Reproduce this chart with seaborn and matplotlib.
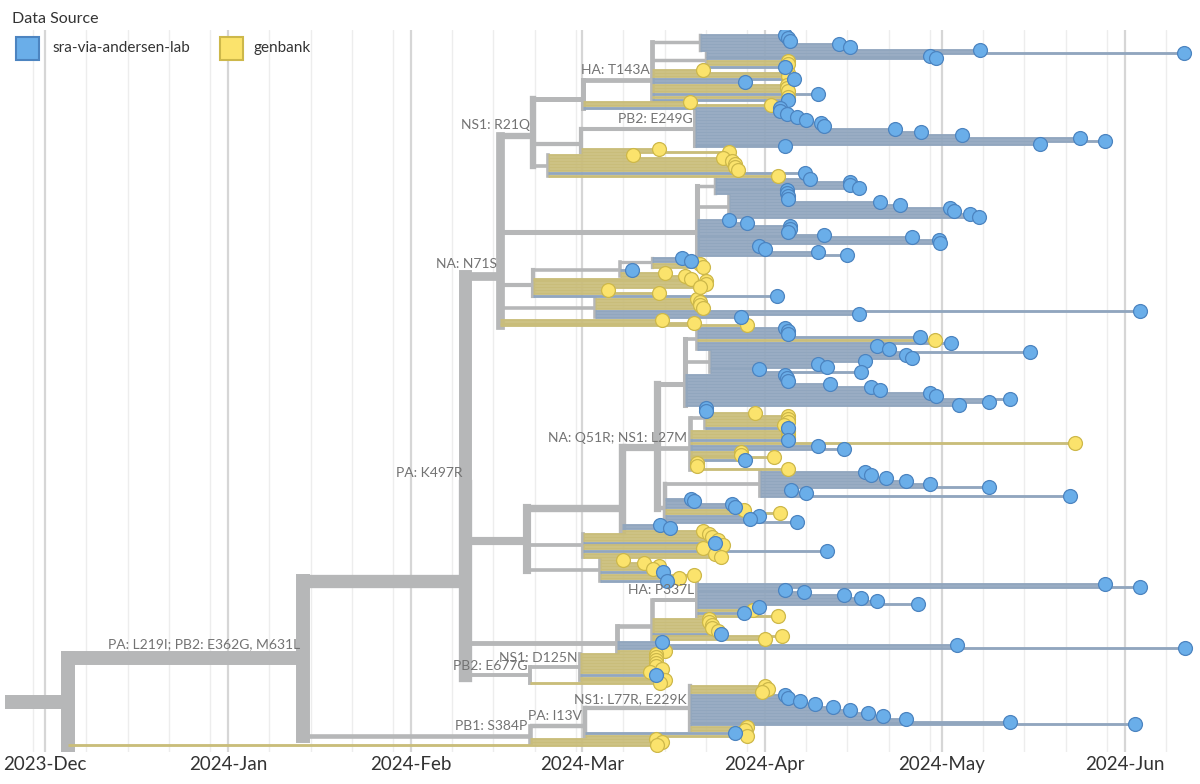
import matplotlib
matplotlib.use("Agg")
import matplotlib.pyplot as plt
import seaborn as sns
import pandas as pd
import numpy as np
from matplotlib.patches import Rectangle

# dates are days after 2023-12-01
root_start = -6.8

node_name = ["r", "B", "C", "Cp", "D", "E1", "E1a", "Ha", "Ha1", "Ha2", "E1b", "Pb", "E1c",
             "D2", "D2a", "D2b", "D3", "D4", "D5", "D6",
             "E", "E2", "E3", "E3a", "E3a1", "E3a2", "E3b", "E3b1", "E3c", "E3c1", "E4", "E5",
             "F", "F1", "F2", "G", "G2", "H", "H2", "H3"]
node_parent = [None, "r", "B", "C", "Cp", "D", "E1", "E1a", "Ha", "Ha", "E1", "E1b", "E1",
               "D", "D2", "D2", "D", "D3", "D4", "D",
               "Cp", "E", "E2", "E3", "E3a", "E3a", "E3", "E3b", "E3", "E3c", "E", "E",
               "Cp", "F", "F1", "C", "G", "B", "H", "H2"]
node_day = [3.9, 43.7, 71.2, 71.2, 77.1, 82.7, 91.2, 102.9, 111, 112, 90.8, 110.2, 85.3,
            110.5, 113.6, 116, 82.7, 97.5, 102.9, 93.2,
            81.7, 97.8, 103.7, 108.5, 110.5, 112.7, 109.3, 111.9, 105, 121.2, 91.2, 94,
            96.9, 102.9, 110.5, 82.2, 90.7, 82.2, 91.5, 109.3]

label_node = ["B", "Cp", "D", "E1", "Ha", "Pb", "E3b", "F2", "G", "G2", "H", "H2", "H3"]
label_text = ["PA: L219I; PB2: E362G, M631L", "PA: K497R", "NA: N71S", "NS1: R21Q",
              "HA: T143A", "PB2: E249G", "NA: Q51R; NS1: L27M", "HA: P337L",
              "PB2: E677G", "NS1: D125N", "PB1: S384P", "PA: I13V", "NS1: L77R, E229K"]

tip_parent = (["Ha1"] * 6 + ["Ha2"] * 6 + ["Ha"] * 11 + ["E1a"] * 3 + ["Pb"] * 13 + ["E1b"] * 2
              + ["E1c"] * 8 + ["D2a"] * 6 + ["D2b"] * 8 + ["D2"] * 13 + ["D5"] * 4 + ["D4"] * 3
              + ["D6"] * 7 + ["D3"] * 7 + ["D"] * 3 + ["E3a1"] * 8 + ["E3a2"] * 8 + ["E3a"] * 11
              + ["E3b1"] * 8 + ["E3b"] * 14 + ["E3c1"] * 9 + ["E3c"] * 9 + ["E2"] * 3 + ["E4"] * 9
              + ["E5"] * 8 + ["F2"] * 12 + ["F1"] * 8 + ["F"] * 4 + ["G2"] * 10 + ["G"] * 1
              + ["H3"] * 16 + ["H2"] * 2 + ["H"] * 2 + ["r"] * 1)
tip_day = [125.4, 126, 126.3, 134.5, 136.5, 158.5,
           193, 150, 151, 126, 126, 125.4,
           111.5, 126, 126, 127, 118.6, 125.8, 125.8, 126, 131, 126, 126,
           109.3, 123, 124.5,
           124.5, 125.8, 127.5, 129, 131.5, 132, 144, 148.5, 155.5, 175.4, 179.7, 168.6, 125.5,
           104, 116,
           99.7, 115, 116.5, 117, 117, 117.5, 128.8, 124.2,
           129.7, 136.4, 136.4, 138, 125.8, 125.8,
           126, 126, 141.5, 145, 153.4, 154, 156.8, 158.3,
           116, 119, 126.3, 126.3, 126, 132, 147, 151.5, 151.7, 121, 122, 131, 136,
           108, 109.5, 111, 111.5,
           99.5, 105, 108.5,
           110.5, 111, 111, 111.5, 185.6, 138, 118,
           109.5, 112, 112, 111, 95.5, 104, 124,
           104.5, 110, 119,
           125.5, 126, 126, 148.3, 150.8, 153.5, 141, 143,
           166.9, 146, 147, 139, 131, 132.5, 121, 138.3,
           125.5, 125.8, 126, 133, 140, 141.5, 150, 151, 163.6, 160, 155,
           112, 112, 120.3, 126, 126, 126, 125.2, 126,
           126, 126, 126, 126, 174.5, 131, 135.5, 118, 118, 123.5, 118.6, 110.5, 110.5, 126,
           139, 140, 142.5, 146, 150, 160, 126.5, 129, 173.7,
           109.5, 110, 116.5, 117, 118.5, 124.5, 121, 119.5, 127.5,
           104.2, 106, 111.5,
           112.5, 113, 114, 113.5, 115, 111.5, 132.5, 113.5, 114.5,
           98, 101.5, 104, 103, 104.8, 110, 107.5, 105.5,
           179.7, 185.6, 125.5, 128.7, 135.5, 138.3, 141, 148, 121, 120, 118.5, 124.2,
           112.5, 112.5, 113, 113, 114, 114.5, 125, 122,
           104.5, 154.5, 193.2, 105,
           103.5, 103.5, 103.5, 103.5, 103.5, 104.5, 102.5, 103.5, 104, 105,
           104.2,
           122, 122.5, 121.5, 125.5, 126, 128, 130.5, 133.5, 136.5, 139.5, 142, 146, 163.6, 184.7, 119, 118.6,
           116.9, 119,
           103.5, 104.5,
           103.8]
tip_source = ("ssssss" "sssggs" "gggssgggsgs" "ggs" "sssssssssssss" "gg"
              "ggggggsg" "ssssss" "ssssssss" "sssssssssssss" "ssgg" "sgg"
              "ggggsss" "ggggggs" "ggg" "ssssgsss" "ssssssss" "sssssssssss"
              "ssgggggs" "gggsgssgggsggg" "sssssssss" "ssssggsss" "ssg" "gggsggsgg"
              "ggggsggs" "sssssssssgsg" "gggggsgg" "sssg" "gggggggsgg" "g"
              "gggsssssssssssgg" "sg" "gg" "g")

source_names = {"s": "sra-via-andersen-lab", "g": "genbank"}
tip_fill = {"sra-via-andersen-lab": "#6AAEE9", "genbank": "#FBE36C"}
tip_edge = {"sra-via-andersen-lab": "#4C84C0", "genbank": "#CDB84A"}
branch_color = {"sra-via-andersen-lab": "#91A6BE", "genbank": "#C9BD7A"}
gray = "#B6B7B8"

assert len(tip_parent) == len(tip_day) == len(tip_source)
N = len(tip_day)

# tree layout
children = {n: [] for n in node_name}
for n, p in zip(node_name, node_parent):
    if p is not None:
        children[p].append(n)
tips_of = {n: [] for n in node_name}
for i, p in enumerate(tip_parent):
    tips_of[p].append(i)
day_of = dict(zip(node_name, node_day))

ypos, ntip = {}, {}
tip_y = np.zeros(N)
counter = [0]


def layout(n):
    ys, k = [], 0
    for c in children[n]:
        ys.append(layout(c))
        k += ntip[c]
    for i in tips_of[n]:
        tip_y[i] = counter[0]
        counter[0] += 1
        ys.append(tip_y[i])
        k += 1
    ypos[n] = np.mean(ys)
    ntip[n] = k
    return ypos[n]


layout("r")


def width(k):
    return (2.6 + 11.4 * (k / N) ** 0.7) * 0.72


fig = plt.figure(figsize=(12, 7.84), dpi=100)
sns.set_theme(style="white")
plt.rcParams["font.family"] = ["Lato", "DejaVu Sans"]
ax = fig.add_axes([0, (784 - 752) / 784, 1, 722 / 784])

# grid: month starts and 8/15/22/29 of each month
start = pd.Timestamp("2023-12-01")
days = pd.date_range("2023-11-01", "2024-06-30")
for d in days:
    off = (d - start).days
    if d.day == 1:
        ax.axvline(off, color="#D6D6D6", lw=1.6, zorder=0)
    elif d.day in (8, 15, 22, 29):
        ax.axvline(off, color="#EDEDED", lw=1.0, zorder=0)

segs = []
for n, p in zip(node_name, node_parent):
    x0 = root_start if p is None else day_of[p]
    segs.append((width(ntip[n]), [x0, day_of[n]], [ypos[n], ypos[n]], gray, "butt"))
    cy = [ypos[c] for c in children[n]] + [tip_y[i] for i in tips_of[n]]
    segs.append((width(ntip[n]), [day_of[n], day_of[n]], [min(cy), max(cy)], gray, "projecting"))
for i in range(N):
    src = source_names[tip_source[i]]
    segs.append((width(1), [day_of[tip_parent[i]], tip_day[i]], [tip_y[i], tip_y[i]],
                 branch_color[src], "butt"))
segs.sort(key=lambda s: -s[0])
for k, (lw, xs, ys, col, cap) in enumerate(segs):
    ax.plot(xs, ys, color=col, lw=lw, solid_capstyle=cap, zorder=1 + k * 1e-4)

tips = pd.DataFrame({"day": tip_day, "y": tip_y,
                     "source": [source_names[c] for c in tip_source]})
for src in ["genbank", "sra-via-andersen-lab"]:
    sub = tips[tips.source == src]
    sns.scatterplot(data=sub, x="day", y="y", color=tip_fill[src], edgecolor=tip_edge[src],
                    linewidth=0.9, s=100, ax=ax, zorder=3, legend=False)

for n, t in zip(label_node, label_text):
    ax.annotate(t, xy=(day_of[n], ypos[n]), xytext=(-2, width(ntip[n]) / 2 + 1),
                textcoords="offset points", ha="right", va="bottom",
                fontsize=10, color="#737373", zorder=4)

px = 710 / (N - 1)
ax.set_ylim(N - 1 + 7 / px, -5 / px)
ax.set_xlim(-45 / 5.9, (1200 - 45) / 5.9)
month_days = [0, 31, 62, 91, 122, 152, 183]
month_labels = ["2023-Dec", "2024-Jan", "2024-Feb", "2024-Mar", "2024-Apr", "2024-May", "2024-Jun"]
ax.set_xticks(month_days, month_labels)
ax.set_yticks([])
ax.tick_params(axis="x", length=0, pad=3, labelsize=13.5, labelcolor="#333333")
ax.set_xlabel("")
ax.set_ylabel("")
for sp in ax.spines.values():
    sp.set_visible(False)

# legend
fig.text(12 / 1200, 1 - 19 / 784, "Data Source", fontsize=11.5, color="#333333", va="center")
fig.add_artist(Rectangle((16 / 1200, 1 - 60 / 784), 23 / 1200, 23 / 784, transform=fig.transFigure,
                         facecolor=tip_fill["sra-via-andersen-lab"],
                         edgecolor=tip_edge["sra-via-andersen-lab"], lw=1.5))
fig.text(52 / 1200, 1 - 48 / 784, "sra-via-andersen-lab", fontsize=11, color="#333333", va="center")
fig.add_artist(Rectangle((220 / 1200, 1 - 60 / 784), 23 / 1200, 23 / 784, transform=fig.transFigure,
                         facecolor=tip_fill["genbank"], edgecolor=tip_edge["genbank"], lw=1.5))
fig.text(254 / 1200, 1 - 48 / 784, "genbank", fontsize=11, color="#333333", va="center")

fig.savefig("out.png", dpi=100)
